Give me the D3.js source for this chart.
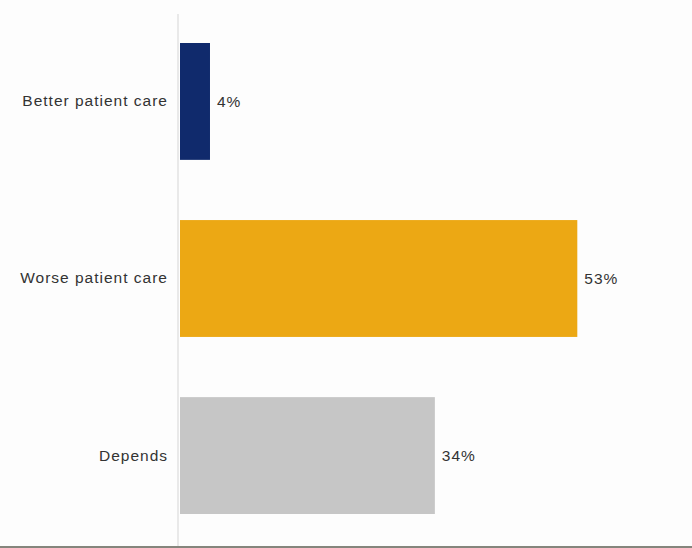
<!DOCTYPE html>
<html>
<head>
<meta charset="utf-8">
<script src="https://cdn.jsdelivr.net/npm/d3@7"></script>
<style>
  html, body { margin: 0; padding: 0; background: #fdfdfd; }
  svg { display: block; }
</style>
</head>
<body>
<svg id="chart" width="692" height="548"></svg>
<script>
// Survey responses: effect on patient care
const categories = ["Better patient care", "Worse patient care", "Depends"];
const values = [4, 53, 34];
const colors = ["#102a6c", "#eca814", "#c6c6c6"];

const width = 692, height = 548;
const svg = d3.select("#chart");
const font = "'Liberation Sans', Arial, sans-serif";

const x = d3.scaleLinear().domain([0, 66.7]).range([180, 680]);
const y = d3.scaleBand().domain(categories).range([43, 514]).paddingInner(0.34).paddingOuter(0);

// Vertical baseline
svg.append("line")
  .attr("x1", x(0) - 2).attr("x2", x(0) - 2)
  .attr("y1", 14).attr("y2", height)
  .attr("stroke", "#e2e2e2").attr("stroke-width", 1.5);

// Bars
svg.selectAll("rect.bar")
  .data(categories)
  .join("rect")
  .attr("class", "bar")
  .attr("x", x(0))
  .attr("y", d => y(d))
  .attr("width", (d, i) => x(values[i]) - x(0))
  .attr("height", y.bandwidth())
  .attr("fill", (d, i) => colors[i]);

// Category labels
const yAxis = d3.axisLeft(y).tickSize(0).tickPadding(12);
const gy = svg.append("g").attr("transform", `translate(${x(0)},0)`).call(yAxis);
gy.select(".domain").remove();
gy.selectAll("text")
  .attr("font-family", font)
  .attr("font-size", 15.5)
  .attr("letter-spacing", 1)
  .attr("fill", "#333");

// Value labels
svg.selectAll("text.value")
  .data(categories)
  .join("text")
  .attr("class", "value")
  .attr("x", (d, i) => x(values[i]) + 7)
  .attr("y", d => y(d) + y.bandwidth() / 2)
  .attr("dy", "0.35em")
  .attr("font-family", font)
  .attr("font-size", 15.5)
  .attr("letter-spacing", 1)
  .attr("fill", "#333")
  .text((d, i) => values[i] + "%");

// Bottom frame edge
svg.append("line")
  .attr("x1", 0).attr("x2", width)
  .attr("y1", height - 1).attr("y2", height - 1)
  .attr("stroke", "#85857c").attr("stroke-width", 2);
</script>
</body>
</html>
